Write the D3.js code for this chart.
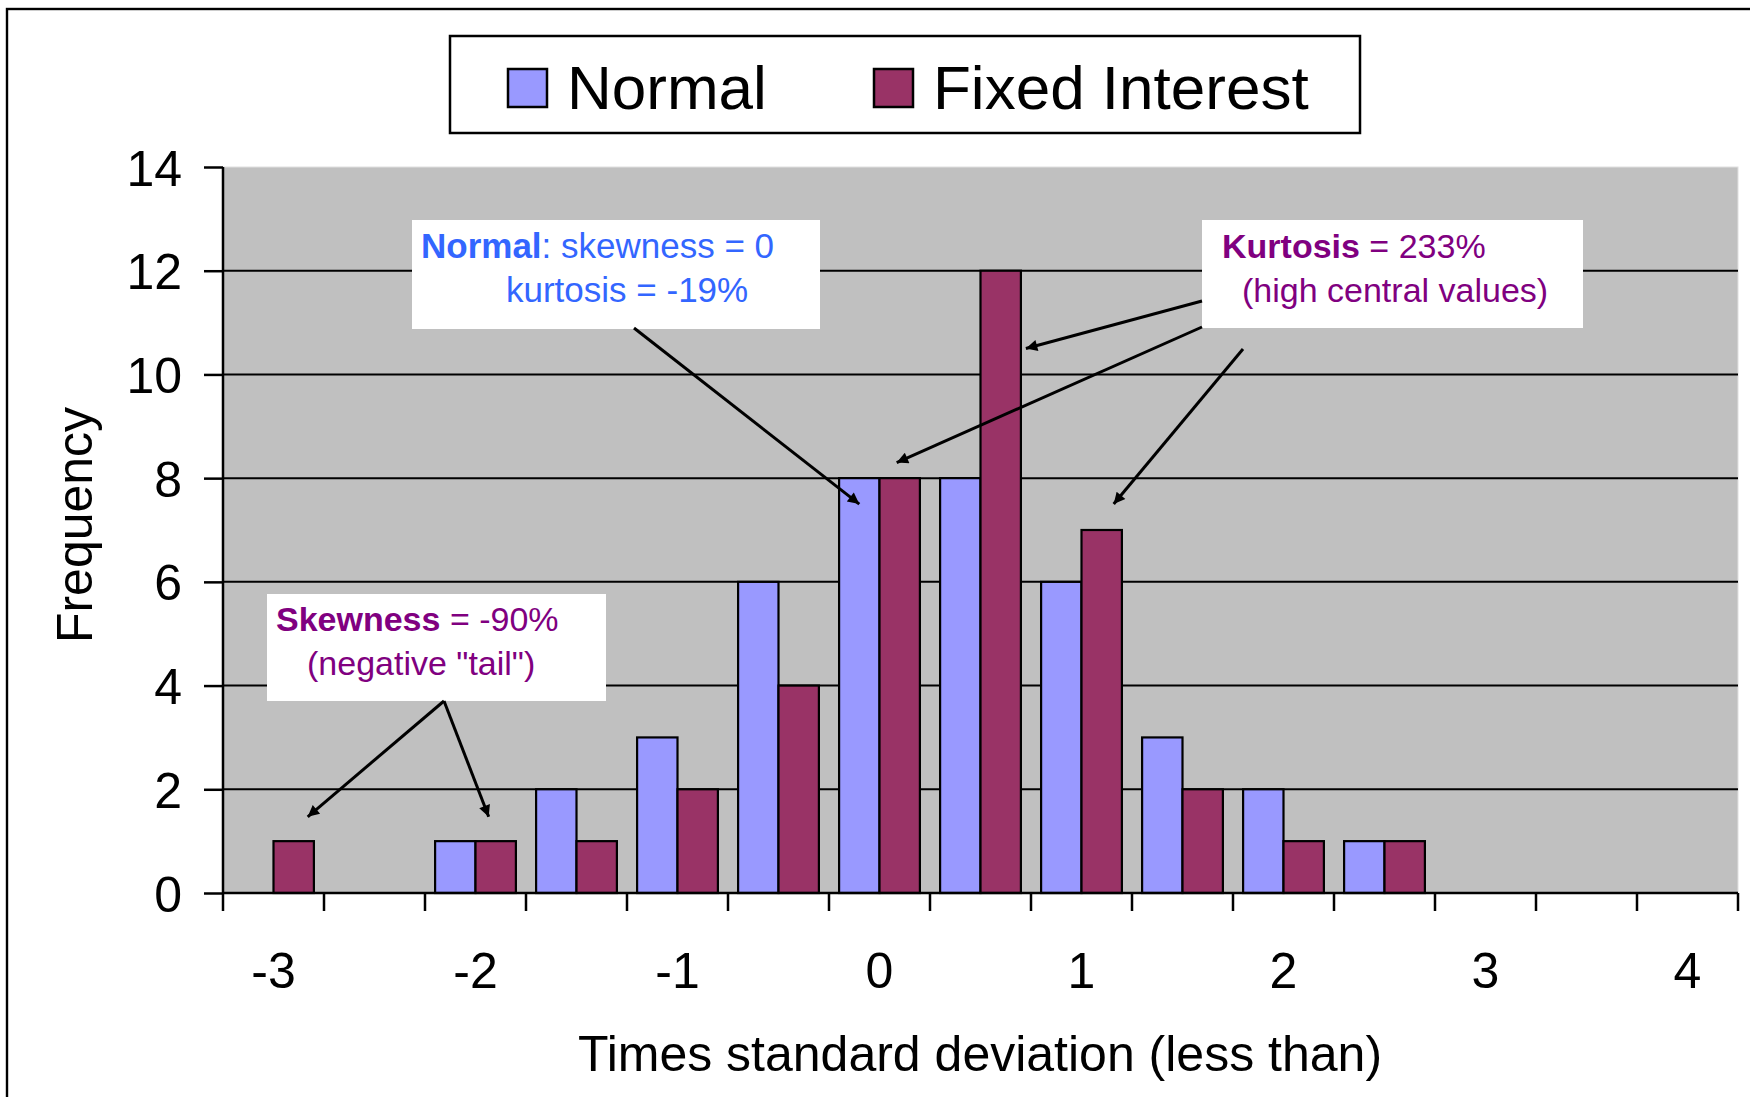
<!DOCTYPE html>
<html>
<head>
<meta charset="utf-8">
<script src="https://cdn.jsdelivr.net/npm/d3@7"></script>
<style>
  html, body { margin: 0; padding: 0; background: #fff; }
  svg { display: block; }
  text { font-family: "Liberation Sans", Arial, Helvetica, sans-serif; }
</style>
</head>
<body>
<script>
// ---- data ----
const categories = ["-3","-2.5","-2","-1.5","-1","-0.5","0","0.5","1","1.5","2","2.5","3","3.5","4"];
const tickLabels = ["-3","-2","-1","0","1","2","3","4"];
const normalValues = [0,0,1,2,3,6,8,8,6,3,2,1,0,0,0];
const fixedValues  = [1,0,1,1,2,4,8,12,7,2,1,1,0,0,0];
const seriesNames = ["Normal","Fixed Interest"];
const yTicks = [0,2,4,6,8,10,12,14];

const W = 1750, H = 1097;
const plot = {left: 223, right: 1738, top: 167, bottom: 893};
const colors = ["#9999FF", "#993366"];

const svg = d3.select("body").append("svg").attr("width", W).attr("height", H);

// outer chart frame (right/bottom sides fall outside picture)
svg.append("rect").attr("x", 7).attr("y", 9).attr("width", W + 20).attr("height", H + 20)
  .attr("fill", "#fff").attr("stroke", "#000").attr("stroke-width", 2.4);

const x = d3.scaleBand().domain(categories).range([plot.left, plot.right]).paddingInner(0).paddingOuter(0);
const y = d3.scaleLinear().domain([0, 14]).range([plot.bottom, plot.top]);
// two bars per category, gap width 50% of a bar
const sub = d3.scaleBand().domain([0,1]).range([x.bandwidth()*0.1, x.bandwidth()*0.9]).paddingInner(0);

// plot area
svg.append("rect").attr("x", plot.left).attr("y", plot.top)
  .attr("width", plot.right - plot.left).attr("height", plot.bottom - plot.top)
  .attr("fill", "#C0C0C0").attr("stroke", "#E0E0E0").attr("stroke-width", 1);

// gridlines
svg.append("g").selectAll("line").data(yTicks.filter(d => d > 0 && d < 14)).join("line")
  .attr("x1", plot.left).attr("x2", plot.right)
  .attr("y1", d => y(d)).attr("y2", d => y(d))
  .attr("stroke", "#000").attr("stroke-width", 2);

// bars
const seriesData = [normalValues, fixedValues];
seriesData.forEach((vals, si) => {
  svg.append("g").selectAll("rect").data(vals.map((v, i) => ({c: categories[i], v})).filter(d => d.v > 0))
    .join("rect")
    .attr("x", d => x(d.c) + sub(si))
    .attr("y", d => y(d.v))
    .attr("width", sub.bandwidth())
    .attr("height", d => y(0) - y(d.v))
    .attr("fill", colors[si]).attr("stroke", "#000").attr("stroke-width", 2.2);
});

// y axis
const yAxis = d3.axisLeft(y).tickValues(yTicks).tickSize(19).tickPadding(22).tickFormat(d3.format("d"));
const gy = svg.append("g").attr("transform", `translate(${plot.left},0)`).call(yAxis);
gy.select(".domain").attr("stroke", "#000").attr("stroke-width", 2.5).attr("d", `M0,${plot.top}V${plot.bottom}`);
gy.selectAll(".tick line").attr("stroke", "#000").attr("stroke-width", 2.5);
gy.selectAll(".tick text").attr("font-size", 50).attr("fill", "#000")
  .attr("font-family", "Liberation Sans, Arial, sans-serif").attr("dy", "0.36em");

// x axis (category boundaries as ticks)
const gx = svg.append("g").attr("transform", `translate(0,${plot.bottom})`);
gx.append("line").attr("x1", plot.left).attr("x2", plot.right).attr("y1", 0).attr("y2", 0)
  .attr("stroke", "#000").attr("stroke-width", 2.5);
const bounds = categories.map(c => x(c)).concat([x(categories[categories.length-1]) + x.bandwidth()]);
gx.selectAll("line.tk").data(bounds).join("line").attr("class", "tk")
  .attr("x1", d => d).attr("x2", d => d).attr("y1", 0).attr("y2", 18)
  .attr("stroke", "#000").attr("stroke-width", 2.5);
gx.selectAll("text").data(tickLabels).join("text")
  .attr("x", d => x(d) + x.bandwidth()/2).attr("y", 95)
  .attr("text-anchor", "middle").attr("font-size", 50).attr("fill", "#000").text(d => d);

// axis titles
svg.append("text").attr("x", 980).attr("y", 1071).attr("text-anchor", "middle")
  .attr("font-size", 50).text("Times standard deviation (less than)");
svg.append("text").attr("transform", "translate(92,525) rotate(-90)").attr("text-anchor", "middle")
  .attr("font-size", 50).text("Frequency");

// legend
const lg = svg.append("g");
lg.append("rect").attr("x", 450).attr("y", 36).attr("width", 910).attr("height", 97)
  .attr("fill", "#fff").attr("stroke", "#000").attr("stroke-width", 2.5);
const legendX = [508, 874];
seriesNames.forEach((n, i) => {
  lg.append("rect").attr("x", legendX[i]).attr("y", 69).attr("width", 39).attr("height", 38)
    .attr("fill", colors[i]).attr("stroke", "#000").attr("stroke-width", 2.5);
  lg.append("text").attr("x", legendX[i] + 59).attr("y", 109).attr("font-size", 62).text(n);
});

// arrow marker
const defs = svg.append("defs");
defs.append("marker").attr("id", "ah").attr("viewBox", "0 0 10 10").attr("refX", 10).attr("refY", 5)
  .attr("markerWidth", 4.8).attr("markerHeight", 3.8).attr("markerUnits", "strokeWidth").attr("orient", "auto")
  .append("path").attr("d", "M0,0L10,5L0,10Z").attr("fill", "#000");

function arrow(x1, y1, x2, y2) {
  svg.append("line").attr("x1", x1).attr("y1", y1).attr("x2", x2).attr("y2", y2)
    .attr("stroke", "#000").attr("stroke-width", 3).attr("marker-end", "url(#ah)");
}
const barCenter = (c, si) => x(c) + sub(si) + sub.bandwidth()/2;
const barRight = (c, si) => x(c) + sub(si) + sub.bandwidth();

// annotation boxes
function box(bx, by, bw2, bh, lines, color, size) {
  const g = svg.append("g");
  g.append("rect").attr("x", bx).attr("y", by).attr("width", bw2).attr("height", bh).attr("fill", "#fff");
  lines.forEach(l => {
    const t = g.append("text").attr("x", l.x).attr("y", l.y).attr("font-size", size).attr("fill", color);
    l.parts.forEach(p => t.append("tspan").attr("font-weight", p.b ? "bold" : "normal").text(p.t));
  });
}

// Normal box
box(412, 220, 408, 109, [
  {x: 421, y: 258, parts: [{t: "Normal", b: true}, {t: ": skewness = 0"}]},
  {x: 506, y: 302, parts: [{t: "kurtosis = -19%"}]}
], "#3366FF", 35);
arrow(634, 328, barCenter("0", 0), y(7.5));

// Kurtosis box
box(1202, 220, 381, 108, [
  {x: 1222, y: 258, parts: [{t: "Kurtosis", b: true}, {t: " = 233%"}]},
  {x: 1242, y: 302, parts: [{t: "(high central values)"}]}
], "#800080", 34);
arrow(1202, 301, barRight("0.5", 1) + 5, y(10.5));
arrow(1202, 327, barCenter("0", 1) - 3, y(8.3));
arrow(1243, 349, barCenter("1", 1) + 12, y(7.5));

// Skewness box
box(267, 594, 339, 107, [
  {x: 276, y: 631, parts: [{t: "Skewness", b: true}, {t: " = -90%"}]},
  {x: 307, y: 675, parts: [{t: "(negative \"tail\")"}]}
], "#800080", 34);
arrow(444, 701, barCenter("-3", 1) + 14, y(1.47));
arrow(444, 701, barCenter("-2", 1) - 7, y(1.47));
</script>
</body>
</html>
